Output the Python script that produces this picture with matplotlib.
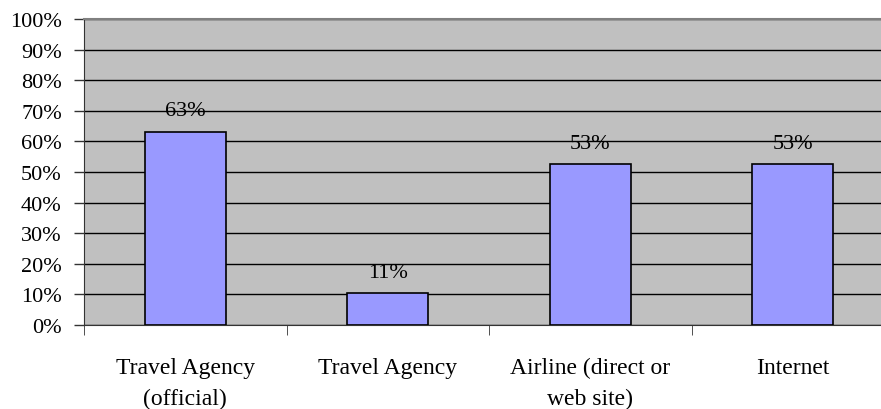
import numpy as np
import matplotlib
matplotlib.use("Agg")
import matplotlib.pyplot as plt
from matplotlib.ticker import MultipleLocator, PercentFormatter

categories = ["Travel Agency\n(official)", "Travel Agency", "Airline (direct or\nweb site)", "Internet"]
values = [0.632, 0.105, 0.525, 0.525]
labels = ["63%", "11%", "53%", "53%"]

plt.rcParams['font.family'] = ['Liberation Serif', 'DejaVu Serif']

fig = plt.figure(figsize=(8.81, 4.10), dpi=100)
ax = fig.add_axes([84/881, 1 - 326/410, 810/881, 306/410])
ax.set_facecolor('#C0C0C0')

x = np.arange(len(categories))
ax.bar(x, values, width=0.4, color='#9999FF', edgecolor='black', linewidth=1.2, zorder=3)
for xi, v, lab in zip(x, values, labels):
    ax.text(xi, v + 0.053, lab, ha='center', va='baseline', fontsize=16, zorder=4)

ax.set_xlim(-0.5, len(categories) - 0.5)
ax.set_ylim(0, 1)
ax.yaxis.set_major_locator(MultipleLocator(0.1))
ax.yaxis.set_major_formatter(PercentFormatter(1.0, decimals=0))
ax.grid(axis='y', color='black', linewidth=1, zorder=1)
ax.set_axisbelow(True)

# category labels between boundary ticks
ax.set_xticks(x)
ax.set_xticklabels(categories, fontsize=17, linespacing=1.6)
ax.tick_params(axis='x', length=0, pad=23)
ax.set_xticks(np.arange(len(categories) + 1) - 0.5, minor=True)
ax.tick_params(axis='x', which='minor', length=7, direction='out', color='#333333')
ax.tick_params(axis='y', length=7, width=1, labelsize=16, pad=9, color='#333333')

ax.spines['right'].set_visible(False)
ax.spines['top'].set_color('#808080')
ax.spines['top'].set_linewidth(1.5)
ax.spines['left'].set_color('#333333')
ax.spines['bottom'].set_color('#333333')

plt.savefig('out.png', dpi=100)
